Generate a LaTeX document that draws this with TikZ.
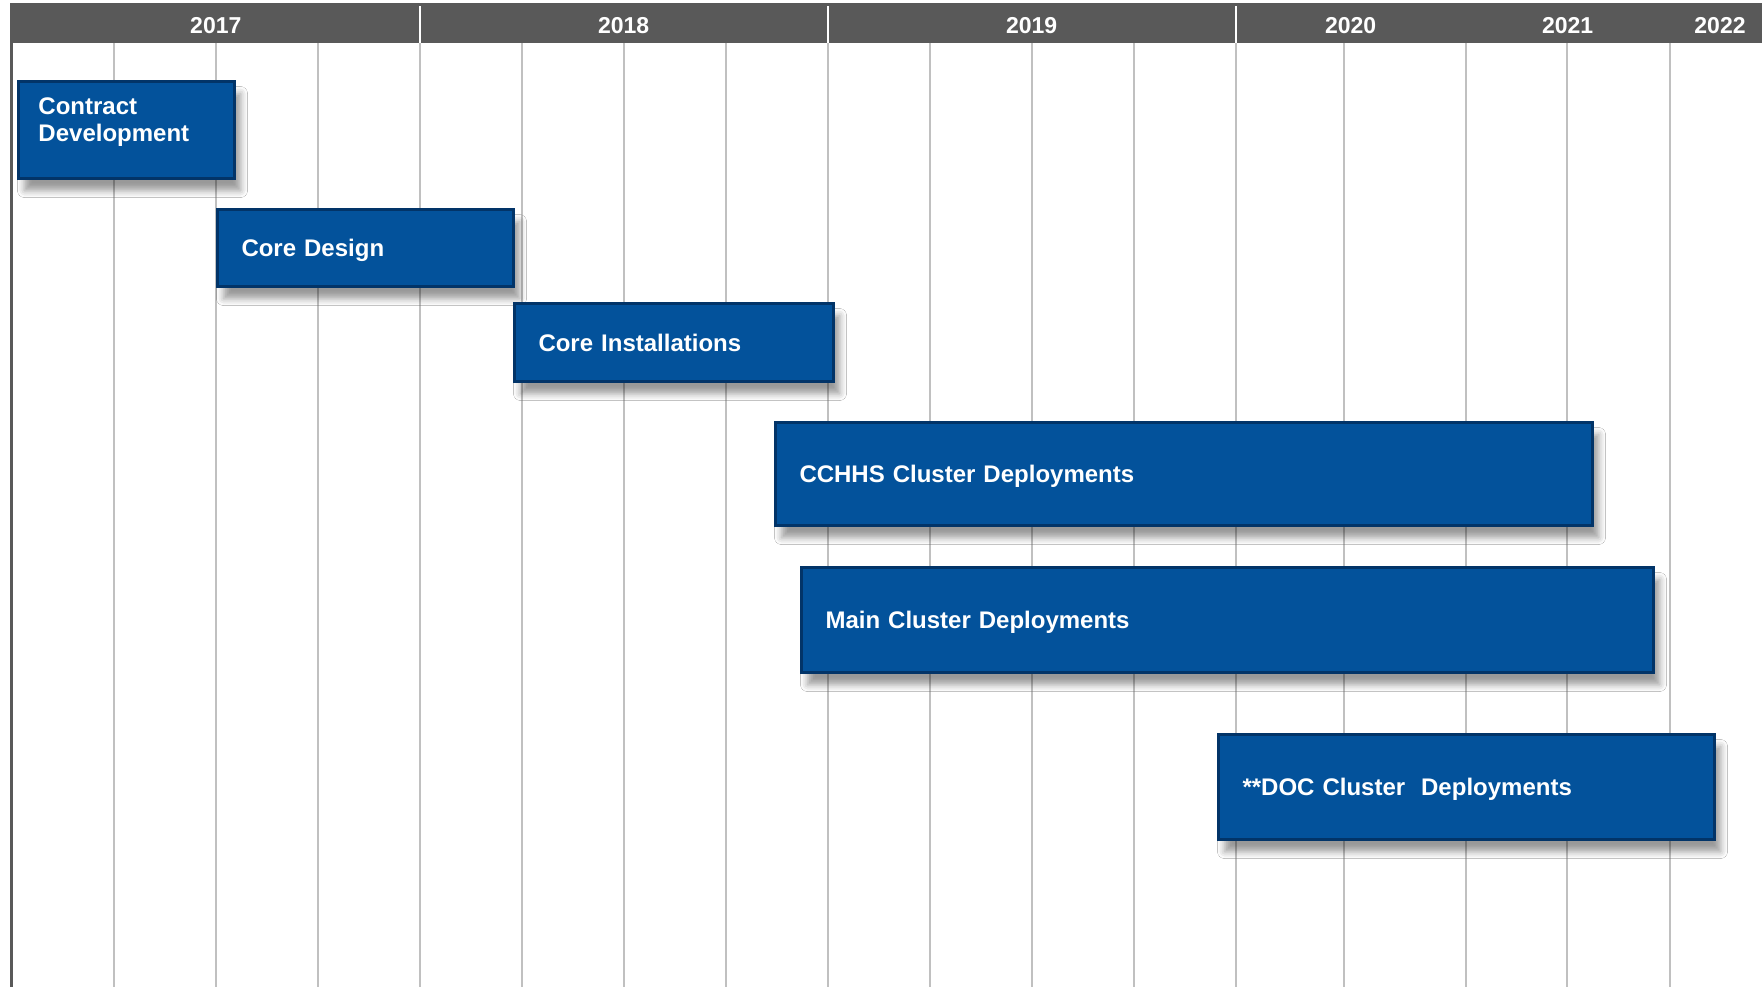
\documentclass[tikz,border=0pt]{standalone}
\usepackage{fontspec}
\setmainfont{Liberation Sans}
\usetikzlibrary{shadows.blur}
\definecolor{barblue}{RGB}{3,82,155}
\definecolor{baredge}{RGB}{2,52,104}
\definecolor{headgray}{RGB}{89,89,89}
\definecolor{gridgray}{RGB}{192,192,192}

\begin{document}
\begin{tikzpicture}[
    x=0.5pt, y=-0.5pt,
    every node/.style = {font=\bfseries\fontsize{12pt}{13.5pt}\selectfont},
    phase/.style      = {rectangle, draw=baredge, line width=1.5pt, fill=barblue,
                         text=white, anchor=north west, align=left,
                         inner xsep=12pt, inner ysep=0pt, text depth=0pt,
                         blur shadow={shadow xshift=3pt, shadow yshift=-6pt,
                                      shadow blur radius=3.5pt, shadow opacity=40}},
    year/.style       = {text=white, font=\bfseries\fontsize{11.5pt}{13pt}\selectfont},
    quarter/.style    = {draw=gridgray, line width=1pt},
    %inner xsep for the first bar is a bit smaller
]
\useasboundingbox (0,0) rectangle (1762,987);
\fill[white] (0,0) rectangle (1762,987);

% quarter lines
\foreach \x in {114,216,318,420,522,624,726,828,930,1032,1134,1236,1344,1466,1567,1670}
    \draw[quarter] (\x,43) -- (\x,987);

% header
\fill[headgray] (11,3) rectangle (1762,43);
\foreach \x in {420,828,1236}
    \draw[white, line width=0.8pt] (\x,6) -- (\x,43);
\draw[headgray, line width=1.2pt] (11.5,3) -- (11.5,987);

\node[year] (y2017) at (215.8,25.5) {2017};
\node[year] (y2018) at (623.6,25.5) {2018};
\node[year] (y2019) at (1031.6,25.5) {2019};
\node[year] (y2020) at (1350.7,25.5) {2020};
\node[year] (y2021) at (1567.6,25.5) {2021};
\node[year] (y2022) at (1720,25.5) {2022};

% bars
\node[phase, inner xsep=10pt, text width=88pt, text depth=24pt, minimum height=48.5pt] (contract) at (17,80)
    {Contract\\Development};
\node[phase, text width=124pt, minimum height=38.5pt] (design) at (216,208)
    {Core Design};
\node[phase, text width=135.5pt, minimum height=39pt] (install) at (513,302)
    {Core Installations};
\node[phase, text width=384.5pt, minimum height=51.5pt] (cchhs) at (774,421)
    {CCHHS Cluster Deployments};
\node[phase, text width=402pt, minimum height=52.5pt] (main) at (800,566)
    {Main Cluster Deployments};
\node[phase, text width=224pt, minimum height=52.5pt] (doc) at (1217,733)
    {**DOC Cluster~ Deployments};
\end{tikzpicture}
\end{document}
